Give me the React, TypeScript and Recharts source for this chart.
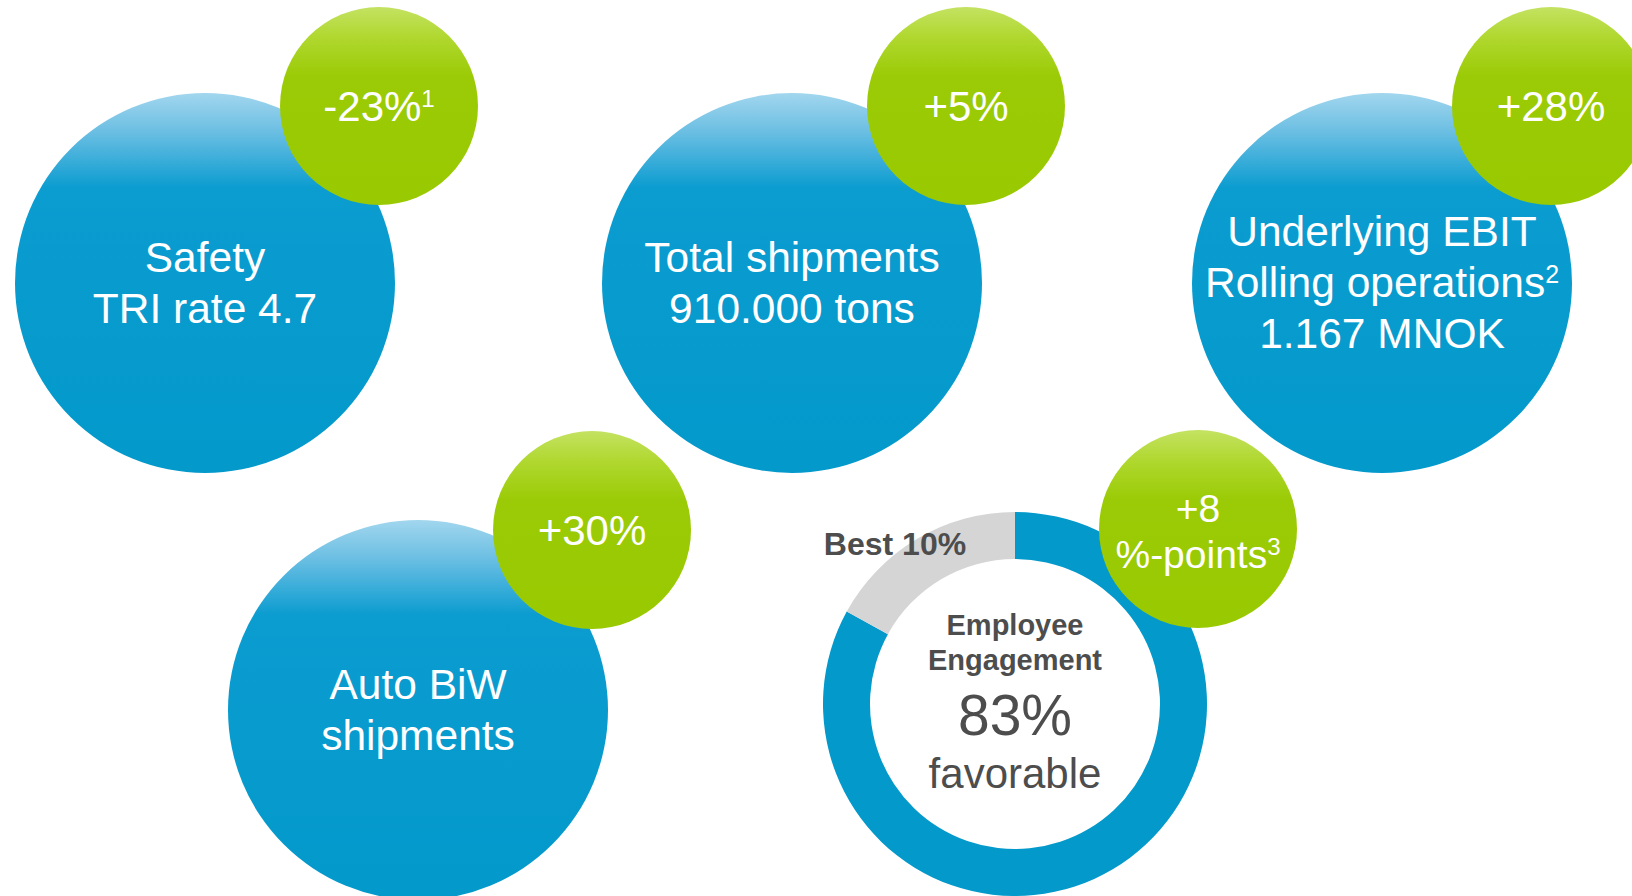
import { Cell, Pie, PieChart, Scatter, ScatterChart, XAxis, YAxis } from "recharts";

const W = 1632;
const H = 896;
const FONT = "'Liberation Sans', Arial, Helvetica, sans-serif";

// KPI bubbles ("^" marks a footnote superscript)
const kpiLines = [
  ["Safety", "TRI rate 4.7"],
  ["Total shipments", "910.000 tons"],
  ["Underlying EBIT", "Rolling operations^2", "1.167 MNOK"],
  ["Auto BiW", "shipments"],
];
const kpiChanges = [["-23%^1"], ["+5%"], ["+28%"], ["+30%"], ["+8", "%-points^3"]];

// engagement donut
const engagementSegments = ["Favorable", "Gap to best 10%"];
const engagementValues = [83, 17];
const engagementTitle = ["Employee", "Engagement"];
const engagementScore = "83%";
const engagementCaption = "favorable";
const benchmarkLabel = "Best 10%";

// layout (page pixels)
const bubbleX = [205, 792, 1382, 418];
const bubbleY = [283, 283, 283, 710];
const badgeX = [379, 966, 1551, 592, 1198];
const badgeY = [106, 106, 106, 530, 529];
const DONUT_CX = 1015;
const DONUT_CY = 704;

const BLUE = "#0399cb";
const GREEN = "#99c900";
const GREY = "#d5d5d5";
const DARK = "#4d4d4d";

const blueData = kpiLines.map((lines, i) => ({ x: bubbleX[i], y: bubbleY[i], lines }));
const greenData = kpiChanges.map((lines, i) => ({ x: badgeX[i], y: badgeY[i], lines }));
const donutData = engagementSegments.map((name, i) => ({ name, value: engagementValues[i] }));

function Line({ text, x, y, size, sup }: { text: string; x: number; y: number; size: number; sup: number }) {
  const [main, note] = text.split("^");
  return (
    <text x={x} y={y} textAnchor="middle" fill="#fff" fontSize={size} fontFamily={FONT}>
      {main}
      {note && (
        <tspan fontSize={sup} dy={-size * 0.33}>
          {note}
        </tspan>
      )}
    </text>
  );
}

function BlueBubble(props: any) {
  const { cx, cy, payload, index } = props;
  const lines: string[] = payload.lines;
  const id = `blueGrad${index}`;
  const first = cy + 14 - (lines.length - 1) * 25.5;
  return (
    <g>
      <defs>
        <linearGradient id={id} x1="0" y1="0" x2="0" y2="1">
          <stop offset="0" stopColor="#a2d6ee" />
          <stop offset="0.1" stopColor="#6cbfe3" />
          <stop offset="0.25" stopColor="#0b9cd0" />
          <stop offset="1" stopColor={BLUE} />
        </linearGradient>
      </defs>
      <circle cx={cx} cy={cy} r={190} fill={`url(#${id})`} />
      {lines.map((t, i) => (
        <Line key={i} text={t} x={cx} y={first + i * 51} size={42.5} sup={25} />
      ))}
    </g>
  );
}

function GreenBubble(props: any) {
  const { cx, cy, payload, index } = props;
  const lines: string[] = payload.lines;
  const id = `greenGrad${index}`;
  const two = lines.length > 1;
  return (
    <g>
      <defs>
        <linearGradient id={id} x1="0" y1="0" x2="0" y2="1">
          <stop offset="0" stopColor="#c4e262" />
          <stop offset="0.15" stopColor="#b0d830" />
          <stop offset="0.35" stopColor="#9bcb06" />
          <stop offset="1" stopColor={GREEN} />
        </linearGradient>
      </defs>
      <circle cx={cx} cy={cy} r={99} fill={`url(#${id})`} />
      {lines.map((t, i) => (
        <Line
          key={i}
          text={t}
          x={cx}
          y={two ? cy - 7 + i * 46 : cy + 15}
          size={two ? 39 : 42}
          sup={24}
        />
      ))}
    </g>
  );
}

export default function App() {
  return (
    <div style={{ position: "absolute", left: 0, top: 0, width: W, height: H, background: "#fff", overflow: "hidden" }}>
      <div style={{ position: "absolute", left: 0, top: 0 }}>
        <PieChart width={W} height={H} margin={{ top: 0, right: 0, bottom: 0, left: 0 }}>
          <Pie
            data={donutData}
            dataKey="value"
            cx={DONUT_CX}
            cy={DONUT_CY}
            innerRadius={145}
            outerRadius={192}
            startAngle={90}
            endAngle={-270}
            stroke="none"
            isAnimationActive={false}
          >
            {donutData.map((d, i) => (
              <Cell key={d.name} fill={i === 0 ? BLUE : GREY} />
            ))}
          </Pie>
        </PieChart>
      </div>
      <div style={{ position: "absolute", left: 0, top: 0 }}>
        <ScatterChart width={W} height={H} margin={{ top: 0, right: 0, bottom: 0, left: 0 }}>
          <XAxis type="number" dataKey="x" domain={[0, W]} hide />
          <YAxis type="number" dataKey="y" domain={[0, H]} reversed hide />
          <g fontFamily={FONT} fill={DARK} textAnchor="middle">
            <text x={DONUT_CX - 120} y={DONUT_CY - 149} fontSize={32} fontWeight="bold">
              {benchmarkLabel}
            </text>
            {engagementTitle.map((t, i) => (
              <text key={t} x={DONUT_CX} y={DONUT_CY - 69 + i * 35} fontSize={29} fontWeight="bold">
                {t}
              </text>
            ))}
            <text x={DONUT_CX} y={DONUT_CY + 31} fontSize={57}>
              {engagementScore}
            </text>
            <text x={DONUT_CX} y={DONUT_CY + 84} fontSize={42}>
              {engagementCaption}
            </text>
          </g>
          <Scatter data={blueData} shape={(p: any) => <BlueBubble {...p} />} isAnimationActive={false} />
          <Scatter data={greenData} shape={(p: any) => <GreenBubble {...p} />} isAnimationActive={false} />
        </ScatterChart>
      </div>
    </div>
  );
}
